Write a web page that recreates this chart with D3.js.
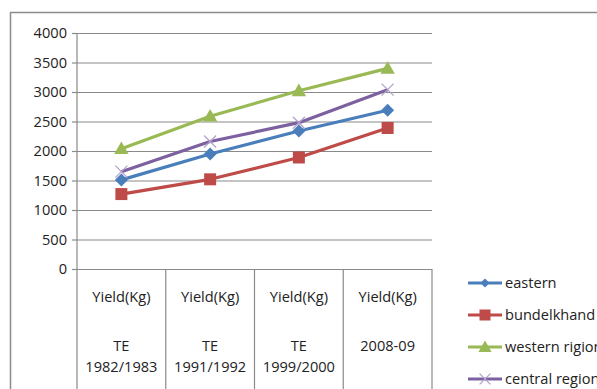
<!DOCTYPE html>
<html>
<head>
<meta charset="utf-8">
<script src="https://cdn.jsdelivr.net/npm/d3@7"></script>
<style>
  html, body { margin: 0; padding: 0; background: #fff; }
  svg { display: block; }
  text { font-family: "Open Sans", "Liberation Sans", sans-serif; fill: #222; }
</style>
</head>
<body>
<svg id="chart" width="597" height="389"></svg>
<script>
// Yield data by period
const categories = ["TE 1982/1983", "TE 1991/1992", "TE 1999/2000", "2008-09"];
const catTop = ["Yield(Kg)", "Yield(Kg)", "Yield(Kg)", "Yield(Kg)"];
const catLines = [["TE", "1982/1983"], ["TE", "1991/1992"], ["TE", "1999/2000"], ["2008-09"]];
const eastern = [1510, 1950, 2340, 2690];
const bundelkhand = [1270, 1520, 1890, 2390];
const western = [2040, 2590, 3020, 3400];
const central = [1650, 2160, 2480, 3040];
const yTicks = [0, 500, 1000, 1500, 2000, 2500, 3000, 3500, 4000];

const seriesList = [
  { name: "eastern", values: eastern, color: "#4A7EBB", marker: "diamond" },
  { name: "bundelkhand", values: bundelkhand, color: "#BE4B48", marker: "square" },
  { name: "western rigion", values: western, color: "#98B954", marker: "triangle" },
  { name: "central region", values: central, color: "#7D60A0", marker: "cross" }
];

const svg = d3.select("#chart");
const grid = "#8a8a8a";
const fontSize = "14.6px";

// outer chart frame
svg.append("rect")
  .attr("x", 10.5).attr("y", 12.5)
  .attr("width", 640).attr("height", 420)
  .attr("fill", "none").attr("stroke", "#8c8c8c").attr("stroke-width", 1.5);

const plot = { left: 77, right: 432, top: 33, bottom: 269 };

const x = d3.scaleBand().domain(categories).range([plot.left, plot.right]).padding(0);
const y = d3.scaleLinear().domain([0, 4000]).range([plot.bottom, plot.top]);

// horizontal gridlines with outward ticks
const yAxis = d3.axisLeft(y).tickValues(yTicks).tickFormat(d3.format("d"))
  .tickSize(-(plot.right - plot.left)).tickPadding(10);
const gy = svg.append("g").attr("transform", `translate(${plot.left},0)`).call(yAxis);
gy.select(".domain").remove();
gy.selectAll(".tick line").attr("stroke", grid).attr("stroke-width", 1.2);
gy.selectAll(".tick").append("line")
  .attr("x1", -5).attr("x2", 0).attr("stroke", grid).attr("stroke-width", 1.2);
gy.selectAll(".tick text").style("font-size", fontSize).attr("fill", "#222")
  .attr("font-family", "'Open Sans', 'Liberation Sans', sans-serif");

// vertical axis and category separators running into the table below
const seps = categories.map(c => x(c)).concat([plot.right]);
svg.append("line")
  .attr("x1", plot.left).attr("x2", plot.left)
  .attr("y1", plot.top).attr("y2", plot.bottom)
  .attr("stroke", grid).attr("stroke-width", 1.2);
svg.selectAll("line.sep").data(seps).join("line").attr("class", "sep")
  .attr("x1", d => d).attr("x2", d => d)
  .attr("y1", plot.bottom).attr("y2", 400)
  .attr("stroke", grid).attr("stroke-width", 1.2);

// category labels
const catG = svg.append("g");
categories.forEach((c, i) => {
  const cx = x(c) + x.bandwidth() / 2;
  catG.append("text").attr("x", cx).attr("y", 302)
    .attr("text-anchor", "middle").style("font-size", fontSize).text(catTop[i]);
  catLines[i].forEach((t, j) => {
    catG.append("text").attr("x", cx).attr("y", 351 + j * 21)
      .attr("text-anchor", "middle").style("font-size", fontSize).text(t);
  });
});

function drawMarker(g, type, color, cx, cy, s) {
  if (type === "diamond") {
    const r = s * 0.65;
    g.append("path").attr("d", `M${cx},${cy - r}L${cx + r},${cy}L${cx},${cy + r}L${cx - r},${cy}Z`).attr("fill", color);
  } else if (type === "square") {
    g.append("rect").attr("x", cx - s / 2 - 1).attr("y", cy - s / 2 - 1).attr("width", s + 2).attr("height", s + 2).attr("fill", color);
  } else if (type === "triangle") {
    const h = s + 2;
    g.append("path").attr("d", `M${cx},${cy - h * 0.6}L${cx + h * 0.6},${cy + h * 0.45}L${cx - h * 0.6},${cy + h * 0.45}Z`).attr("fill", color);
  } else if (type === "cross") {
    const r = s * 0.6;
    g.append("path").attr("d", `M${cx - r},${cy - r}L${cx + r},${cy + r}M${cx - r},${cy + r}L${cx + r},${cy - r}`)
      .attr("stroke", "#b3a2cc").attr("stroke-width", 1.3).attr("fill", "none");
  }
}

const line = d3.line().x((d, i) => x(categories[i]) + x.bandwidth() / 2).y(d => y(d));

seriesList.forEach(s => {
  const g = svg.append("g");
  g.append("path").datum(s.values).attr("d", line)
    .attr("fill", "none").attr("stroke", s.color).attr("stroke-width", 3.2)
    .attr("stroke-linejoin", "round");
  s.values.forEach((v, i) => drawMarker(g, s.marker, s.color, x(categories[i]) + x.bandwidth() / 2, y(v), 10));
});

// legend
const lg = svg.append("g");
seriesList.forEach((s, i) => {
  const ly = 283 + i * 32;
  lg.append("line").attr("x1", 468).attr("x2", 502).attr("y1", ly).attr("y2", ly)
    .attr("stroke", s.color).attr("stroke-width", 3.2);
  drawMarker(lg, s.marker, s.color, 485, ly, s.marker === "diamond" ? 7 : 9);
  lg.append("text").attr("x", 505).attr("y", ly + 5).style("font-size", fontSize).text(s.name);
});
</script>
</body>
</html>
